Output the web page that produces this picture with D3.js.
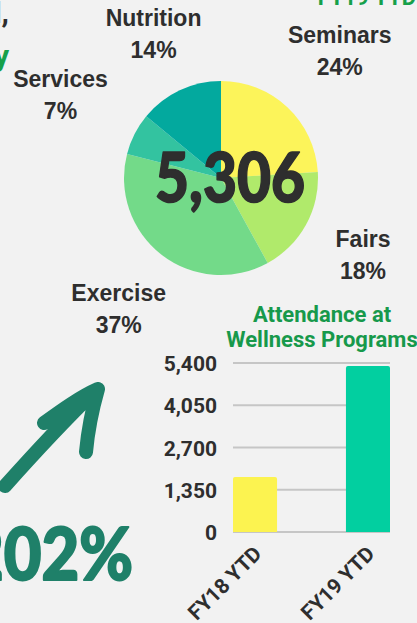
<!DOCTYPE html>
<html>
<head>
<meta charset="utf-8">
<script src="https://cdn.jsdelivr.net/npm/d3@7"></script>
<style>
  html, body { margin: 0; padding: 0; background: #f2f2f2; overflow: hidden; }
  svg { display: block; }
</style>
</head>
<body>
<svg id="chart" width="417" height="623" font-family="Roboto, 'Liberation Sans', Arial, sans-serif"></svg>
<script>
// ---- data ----
const pieCategories = ["Seminars", "Fairs", "Exercise", "Services", "Nutrition"];
const pieValues = [24, 18, 37, 7, 14];
const pieColors = ["#fcf45a", "#b0ea6b", "#73da89", "#33c3a0", "#03a99e"];
const pieTotalLabel = "5,306";

const barCategories = ["FY18 YTD", "FY19 YTD"];
const barValues = [1757, 5306];
const barColors = ["#fcf350", "#02cfa0"];
const yTickValues = [0, 1350, 2700, 4050, 5400];
const barTitleLines = ["Attendance at", "Wellness Programs"];
const increaseLabel = "202%";

// ---- setup ----
const svg = d3.select("#chart");
svg.append("rect").attr("width", 417).attr("height", 623).attr("fill", "#f2f2f2");

const dark = "#2e2e2e";
const green = "#1f8069";
const roundFont = "Lato, 'Open Sans', sans-serif";
const labelFont = "'Liberation Sans', Arial, sans-serif";

// clipped fragments of surrounding infographic text
svg.append("text").attr("x", 9).attr("y", 23).attr("text-anchor", "end")
  .attr("font-size", 30).attr("font-weight", "bold").attr("fill", dark).text("Overall,");
svg.append("text").attr("x", 9).attr("y", 66).attr("text-anchor", "end")
  .attr("font-size", 30).attr("font-weight", "bold").attr("fill", "#16a04a").text("Weekly");
svg.append("text").attr("x", 416).attr("y", 5).attr("text-anchor", "end")
  .attr("font-size", 22).attr("font-weight", "bold").attr("fill", "#16a04a").text("FY19 YTD");

// ---- pie ----
const cx = 221, cy = 178, R = 97;
const pie = d3.pie().sort(null).value(d => d)(pieValues);
const arc = d3.arc().innerRadius(0).outerRadius(R);
const total = d3.sum(pieValues);

const gPie = svg.append("g").attr("transform", `translate(${cx},${cy})`);
gPie.selectAll("path").data(pie).join("path")
  .attr("d", arc)
  .attr("fill", (d, i) => pieColors[i]);

const labels = svg.append("g").attr("transform", `translate(${cx},${cy})`);
pie.forEach((d, i) => {
  const t = labels.append("text")
    .attr("text-anchor", "middle")
    .attr("font-family", labelFont)
    .attr("font-size", 23).attr("font-weight", "bold").attr("fill", dark);
  const t1 = t.append("tspan").attr("x", 0).attr("y", 0).text(pieCategories[i]);
  const t2 = t.append("tspan").attr("x", 0).attr("y", 32).text(Math.round(pieValues[i] / total * 100) + "%");
  const hw = Math.max(t1.node().getComputedTextLength(), t2.node().getComputedTextLength()) / 2;
  const a = (d.startAngle + d.endAngle) / 2;
  const dist = 138 + hw * Math.abs(Math.sin(a));
  const lx = dist * Math.sin(a), ly = -dist * Math.cos(a);
  t1.attr("x", lx).attr("y", ly - 9);
  t2.attr("x", lx).attr("y", ly + 23);
});

svg.append("text")
  .attr("x", 155).attr("y", 202)
  .attr("textLength", 150).attr("lengthAdjust", "spacingAndGlyphs")
  .attr("font-family", roundFont)
  .attr("font-size", 68).attr("font-weight", 900).attr("fill", dark)
  .attr("stroke", dark).attr("stroke-width", 1.5).attr("stroke-linejoin", "round")
  .text(pieTotalLabel);

// ---- arrow + increase ----
svg.append("path")
  .attr("d", "M5,486 C30,458 60,425 96,390 M44,423 C62,410 80,397 98,389 M98,389 C92,410 88,430 86,452")
  .attr("fill", "none").attr("stroke", green).attr("stroke-width", 14)
  .attr("stroke-linecap", "round").attr("stroke-linejoin", "round");

svg.append("text")
  .attr("x", -34).attr("y", 580)
  .attr("textLength", 167).attr("lengthAdjust", "spacingAndGlyphs")
  .attr("font-family", roundFont)
  .attr("font-size", 72).attr("font-weight", 900).attr("fill", green)
  .attr("stroke", green).attr("stroke-width", 2).attr("stroke-linejoin", "round")
  .text(increaseLabel);

// ---- bar chart ----
const x = d3.scaleBand().domain(barCategories).range([233, 390]).paddingInner(0.61).paddingOuter(0);
const y = d3.scaleLinear().domain([0, 5400]).range([532, 363]);

const gGrid = svg.append("g");
gGrid.selectAll("line").data(yTickValues).join("line")
  .attr("x1", 233).attr("x2", 390)
  .attr("y1", d => y(d)).attr("y2", d => y(d))
  .attr("stroke", "#c6c6c6").attr("stroke-width", 2);

const yAxis = svg.append("g").attr("transform", "translate(217,0)")
  .call(d3.axisLeft(y).tickValues(yTickValues).tickSize(0).tickPadding(0)
    .tickFormat(d3.format(",")));
yAxis.select(".domain").remove();
yAxis.attr("font-family", null).attr("font-size", null);
yAxis.selectAll("text")
  .attr("font-size", 21).attr("font-weight", "bold").attr("fill", dark)
  .attr("dy", "0.36em");

svg.append("g").selectAll("path").data(barValues).join("path")
  .attr("d", (d, i) => {
    const x0 = x(barCategories[i]), w = x.bandwidth(), y0 = y(d), y1 = y(0), r = 2;
    return `M${x0},${y1} V${y0 + r} Q${x0},${y0} ${x0 + r},${y0} H${x0 + w - r} Q${x0 + w},${y0} ${x0 + w},${y0 + r} V${y1} Z`;
  })
  .attr("fill", (d, i) => barColors[i]);

svg.append("g").selectAll("text").data(barCategories).join("text")
  .attr("transform", d => `translate(${x(d) + x.bandwidth() / 2 + 8},555) rotate(-45)`)
  .attr("text-anchor", "end")
  .attr("font-size", 21).attr("font-weight", "bold").attr("fill", dark)
  .text(d => d);

const title = svg.append("text").attr("text-anchor", "middle")
  .attr("font-size", 22).attr("font-weight", "bold").attr("fill", "#17994b");
barTitleLines.forEach((l, i) => {
  title.append("tspan").attr("x", 322).attr("y", 322 + i * 25).text(l);
});
</script>
</body>
</html>
